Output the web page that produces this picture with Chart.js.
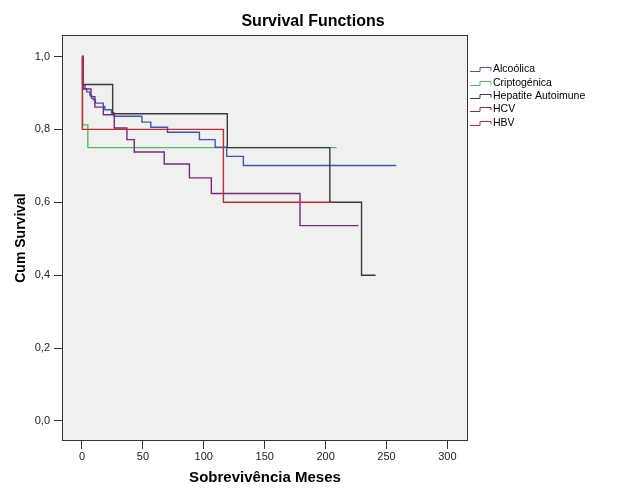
<!DOCTYPE html>
<html>
<head>
<meta charset="utf-8">
<script src="https://cdn.jsdelivr.net/npm/chart.js@4"></script>
<style>
  html, body { margin: 0; padding: 0; background: #fff; }
</style>
</head>
<body>
<canvas id="chart" width="626" height="501"></canvas>
<script>
// group names and colours
const groups = ["Alcoólica", "Criptogénica", "Hepatite Autoimune", "HCV", "HBV"];
const colors = ["#3e58ac", "#4cbf5c", "#3a3a3a", "#79287d", "#c42b2f"];
const drawOrder = [3, 4, 2, 1, 0]; // lower = drawn on top

// Kaplan-Meier steps (months, cumulative survival)
const alcTime = [0, 0.5, 1.1, 2.5, 3.8, 6.5, 7.9, 9.3, 11, 17.5, 18.8, 24.3, 26.5, 49.2, 56.5, 70.2, 96.4, 109.3, 118.8, 132.5, 258];
const alcSurv = [1.0, 0.94, 0.922, 0.912, 0.903, 0.894, 0.885, 0.881, 0.872, 0.863, 0.854, 0.845, 0.836, 0.82, 0.806, 0.792, 0.772, 0.751, 0.726, 0.701, 0.701];

const criTime = [0, 0.5, 4.8, 209];
const criSurv = [1.0, 0.8125, 0.75, 0.75];

const haiTime = [0, 0.5, 25.2, 119.3, 203.5, 229.5, 241];
const haiSurv = [1.0, 0.923, 0.843, 0.75, 0.6, 0.4, 0.4];

const hcvTime = [0, 1, 7.4, 10.6, 17.5, 26.5, 36.9, 42.9, 67.5, 88.2, 106.2, 179, 227];
const hcvSurv = [1.0, 0.911, 0.89, 0.861, 0.84, 0.804, 0.772, 0.738, 0.705, 0.667, 0.624, 0.536, 0.536];

const hbvTime = [0, 0.3, 116.1, 206];
const hbvSurv = [1.0, 0.8, 0.6, 0.6];

const xTicks = [0, 50, 100, 150, 200, 250, 300];
const yTicks = [0, 0.2, 0.4, 0.6, 0.8, 1.0];

const series = [[alcTime, alcSurv], [criTime, criSurv], [haiTime, haiSurv], [hcvTime, hcvSurv], [hbvTime, hbvSurv]];

const FONT = "'Liberation Sans', Arial, sans-serif";

const datasets = groups.map((g, i) => ({
  label: g,
  data: series[i][0].map((t, k) => ({ x: t, y: series[i][1][k] })),
  borderColor: colors[i],
  borderWidth: 1.4,
  stepped: true,
  pointRadius: 0,
  fill: false,
  showLine: true,
  order: drawOrder[i]
}));

// grey plot area, frame and the step legend on the right
const plotBox = {
  id: "plotBox",
  beforeDraw(chart) {
    const { ctx, chartArea: a } = chart;
    ctx.save();
    ctx.fillStyle = "#fff";
    ctx.fillRect(0, 0, chart.width, chart.height);
    ctx.fillStyle = "#f0f0f0";
    ctx.fillRect(a.left, a.top, a.right - a.left, a.bottom - a.top);
    ctx.restore();
  },
  afterDraw(chart) {
    const { ctx, chartArea: a } = chart;
    ctx.save();
    ctx.strokeStyle = "#333";
    ctx.lineWidth = 1;
    ctx.strokeRect(Math.round(a.left) + 0.5, Math.round(a.top) + 0.5,
      Math.round(a.right - a.left) - 1, Math.round(a.bottom - a.top) - 1);

    ctx.font = "10.5px " + FONT;
    ctx.textBaseline = "middle";
    ctx.fillStyle = "#000";
    chart.data.datasets.forEach((ds, i) => {
      const y = Math.round(69.3 + i * 13.35) + 0.5;
      const x0 = a.right + 2;
      ctx.strokeStyle = ds.borderColor;
      ctx.beginPath();
      ctx.moveTo(x0, y + 2);
      ctx.lineTo(x0 + 10, y + 2);
      ctx.lineTo(x0 + 10, y - 2);
      ctx.lineTo(x0 + 21, y - 2);
      ctx.lineTo(x0 + 21, y + 1);
      ctx.stroke();
      ctx.fillText(ds.label, x0 + 23, y);
    });
    ctx.restore();
  }
};

const ctx = document.getElementById("chart").getContext("2d");
new Chart(ctx, {
  type: "scatter",
  data: { datasets: datasets },
  plugins: [plotBox],
  options: {
    responsive: false,
    animation: false,
    layout: { padding: 0 },
    plugins: {
      legend: { display: false },
      tooltip: { enabled: false },
      title: {
        display: true,
        text: "Survival Functions",
        color: "#000",
        font: { family: FONT, size: 16, weight: "bold" },
        padding: { top: 11.5, bottom: 4.3 }
      }
    },
    scales: {
      x: {
        type: "linear",
        min: -16.4,
        max: 316.9,
        afterBuildTicks: ax => { ax.ticks = xTicks.map(v => ({ value: v })); },
        afterFit: s => { s.height = 60; },
        ticks: { color: "#222", font: { family: FONT, size: 11 }, padding: 1, maxRotation: 0, autoSkip: false },
        grid: { drawOnChartArea: false, drawTicks: true, tickLength: 8, color: "#333" },
        border: { display: false },
        title: {
          display: true,
          text: "Sobrevivência Meses",
          color: "#000",
          font: { family: FONT, size: 15, weight: "bold" },
          padding: { top: 0, bottom: 14 }
        }
      },
      y: {
        type: "linear",
        min: -0.0549,
        max: 1.059,
        afterBuildTicks: ax => { ax.ticks = yTicks.map(v => ({ value: v })); },
        afterFit: s => { s.width = 62; },
        ticks: {
          color: "#222",
          font: { family: FONT, size: 11 },
          padding: 4,
          autoSkip: false,
          callback: v => v.toFixed(1).replace(".", ",")
        },
        grid: { drawOnChartArea: false, drawTicks: true, tickLength: 8, color: "#333" },
        border: { display: false },
        title: {
          display: true,
          text: "Cum Survival",
          color: "#000",
          font: { family: FONT, size: 14, weight: "bold" },
          padding: { top: 13, bottom: 0 }
        }
      },
      // empty right-hand box that holds the legend space
      side: {
        type: "linear",
        position: "right",
        afterFit: s => { s.width = 158; },
        ticks: { display: false },
        grid: { display: false },
        border: { display: false }
      }
    }
  }
});
</script>
</body>
</html>
